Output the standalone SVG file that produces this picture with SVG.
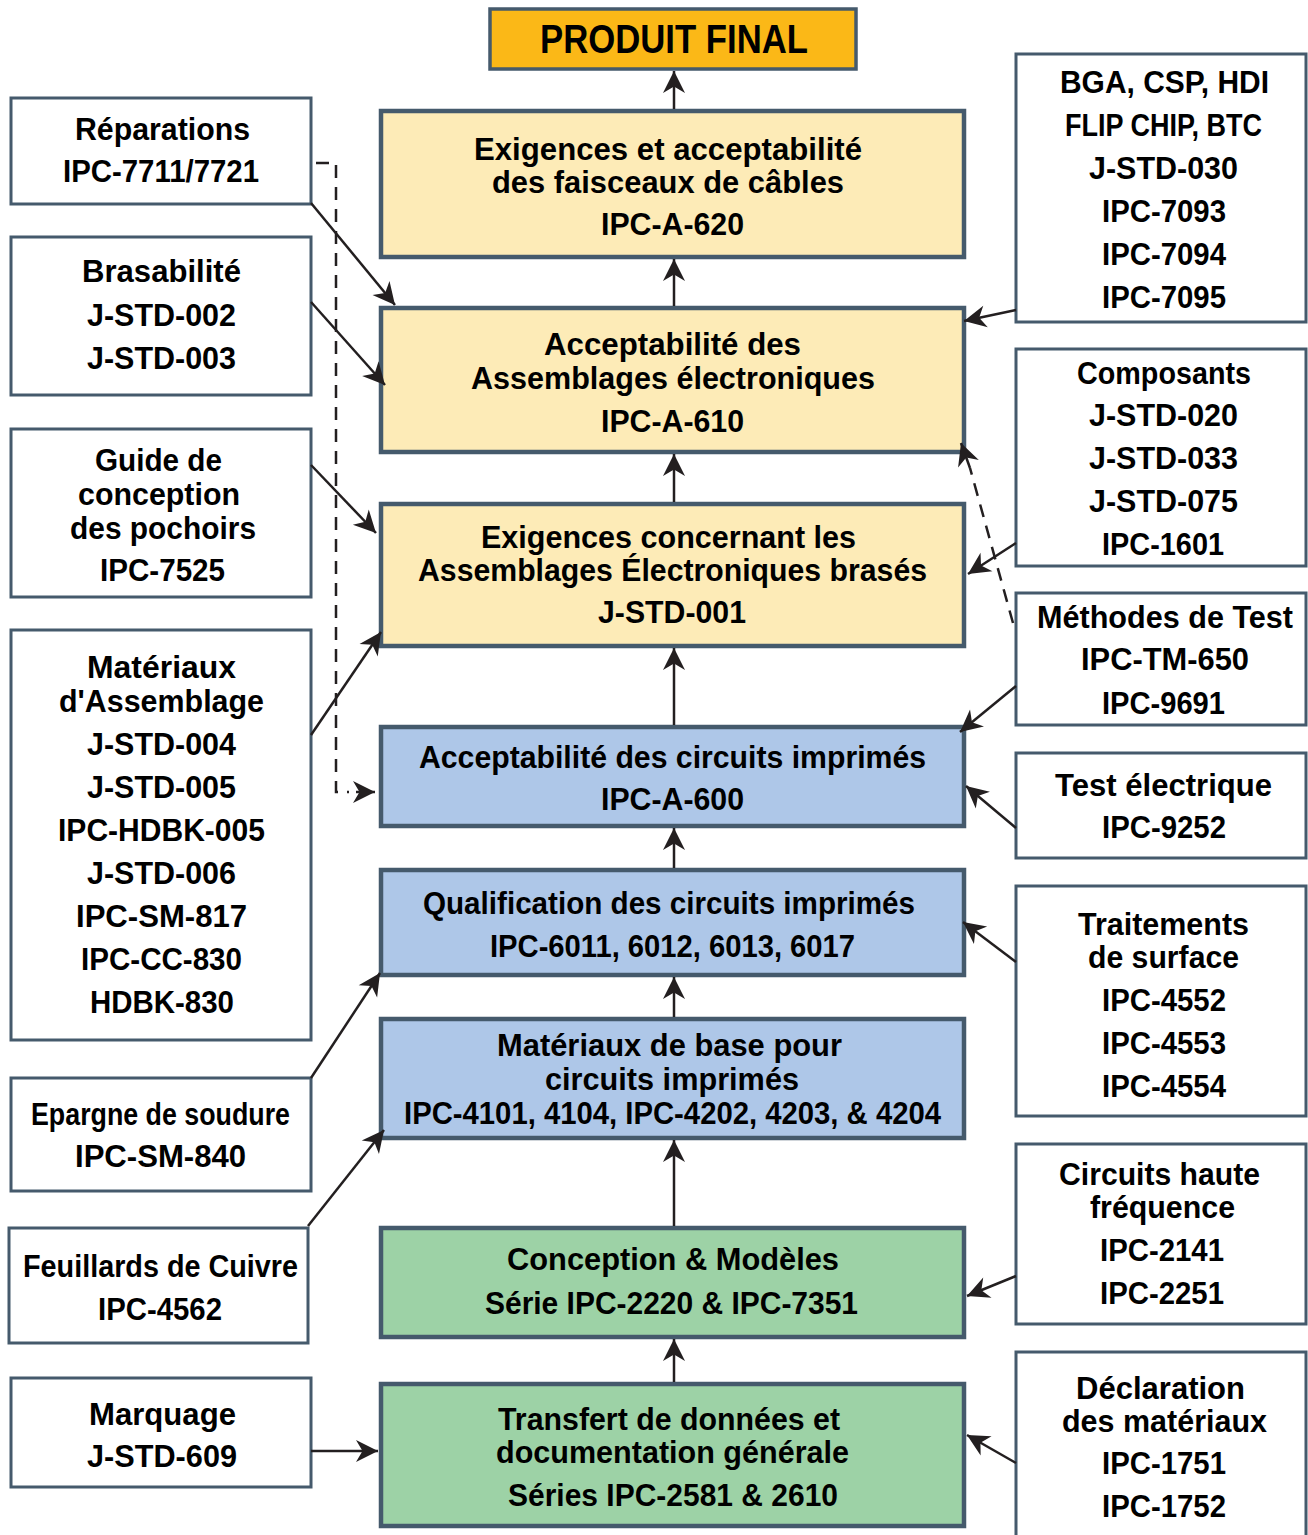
<svg xmlns="http://www.w3.org/2000/svg" width="1308" height="1535" viewBox="0 0 1308 1535">
<defs>
<marker id="ah" markerUnits="userSpaceOnUse" markerWidth="24" markerHeight="24" refX="22" refY="11" orient="auto" overflow="visible">
<path d="M0,0 L22,11 L0,22 L6.5,11 Z" fill="#231F20"/>
</marker>
</defs>
<style>
text{font-family:"Liberation Sans",Arial,sans-serif;font-weight:bold;font-size:32px;fill:#000;text-anchor:middle}
.side{fill:#fff;stroke:#455A6C;stroke-width:3}
.main{stroke:#455A6C;stroke-width:4.5}
.y{fill:#FDEBB7}.b{fill:#AEC7E8}.g{fill:#9DD2A6}
.cn{stroke:#231F20;stroke-width:2.5;fill:none;marker-end:url(#ah)}
.ds{stroke:#231F20;stroke-width:2.5;fill:none;stroke-dasharray:13,9}
</style>
<rect width="1308" height="1535" fill="#fff"/>

<g id="produit-final">
<rect x="490" y="9" width="366" height="60" fill="#FBB817" stroke="#455A6C" stroke-width="3.5"/>
<text x="674" y="53" style="font-size:41px" textLength="268" lengthAdjust="spacingAndGlyphs">PRODUIT FINAL</text>
</g>

<g id="ipc-a-620">
<rect class="main y" x="381" y="111" width="583" height="146"/>
<text x="668" y="160" textLength="388" lengthAdjust="spacingAndGlyphs">Exigences et acceptabilité</text>
<text x="668" y="193" textLength="352" lengthAdjust="spacingAndGlyphs">des faisceaux de câbles</text>
<text x="672.5" y="235" textLength="143" lengthAdjust="spacingAndGlyphs">IPC-A-620</text>
</g>
<g id="ipc-a-610">
<rect class="main y" x="381" y="308" width="583" height="144"/>
<text x="672.5" y="355" textLength="257" lengthAdjust="spacingAndGlyphs">Acceptabilité des</text>
<text x="673" y="389" textLength="404" lengthAdjust="spacingAndGlyphs">Assemblages électroniques</text>
<text x="672.5" y="432" textLength="143" lengthAdjust="spacingAndGlyphs">IPC-A-610</text>
</g>
<g id="j-std-001">
<rect class="main y" x="381" y="504" width="583" height="142"/>
<text x="668.5" y="548" textLength="375" lengthAdjust="spacingAndGlyphs">Exigences concernant les</text>
<text x="672.5" y="581" textLength="509" lengthAdjust="spacingAndGlyphs">Assemblages Électroniques brasés</text>
<text x="672" y="623" textLength="148" lengthAdjust="spacingAndGlyphs">J-STD-001</text>
</g>
<g id="ipc-a-600">
<rect class="main b" x="381" y="727" width="583" height="99"/>
<text x="672.5" y="768" textLength="507" lengthAdjust="spacingAndGlyphs">Acceptabilité des circuits imprimés</text>
<text x="672.5" y="810" textLength="143" lengthAdjust="spacingAndGlyphs">IPC-A-600</text>
</g>
<g id="ipc-6011">
<rect class="main b" x="381" y="870" width="583" height="105"/>
<text x="669" y="914" textLength="492" lengthAdjust="spacingAndGlyphs">Qualification des circuits imprimés</text>
<text x="672.5" y="957" textLength="365" lengthAdjust="spacingAndGlyphs">IPC-6011, 6012, 6013, 6017</text>
</g>
<g id="ipc-4101">
<rect class="main b" x="381" y="1019" width="583" height="119"/>
<text x="669.5" y="1056" textLength="345" lengthAdjust="spacingAndGlyphs">Matériaux de base pour</text>
<text x="672" y="1090" textLength="254" lengthAdjust="spacingAndGlyphs">circuits imprimés</text>
<text x="672.5" y="1124" textLength="537" lengthAdjust="spacingAndGlyphs">IPC-4101, 4104, IPC-4202, 4203, &amp; 4204</text>
</g>
<g id="ipc-2220">
<rect class="main g" x="381" y="1228" width="583" height="109"/>
<text x="673" y="1270" textLength="332" lengthAdjust="spacingAndGlyphs">Conception &amp; Modèles</text>
<text x="671.5" y="1314" textLength="373" lengthAdjust="spacingAndGlyphs">Série IPC-2220 &amp; IPC-7351</text>
</g>
<g id="ipc-2581">
<rect class="main g" x="381" y="1384" width="583" height="142"/>
<text x="669" y="1430" textLength="342" lengthAdjust="spacingAndGlyphs">Transfert de données et</text>
<text x="672.5" y="1463" textLength="353" lengthAdjust="spacingAndGlyphs">documentation générale</text>
<text x="673" y="1506" textLength="330" lengthAdjust="spacingAndGlyphs">Séries IPC-2581 &amp; 2610</text>
</g>

<g id="reparations">
<rect class="side" x="11" y="98" width="300" height="106"/>
<text x="162.5" y="140" textLength="175" lengthAdjust="spacingAndGlyphs">Réparations</text>
<text x="161" y="182" textLength="196" lengthAdjust="spacingAndGlyphs">IPC-7711/7721</text>
</g>
<g id="brasabilite">
<rect class="side" x="11" y="237" width="300" height="158"/>
<text x="161.5" y="282" textLength="159" lengthAdjust="spacingAndGlyphs">Brasabilité</text>
<text x="161.5" y="326" textLength="149" lengthAdjust="spacingAndGlyphs">J-STD-002</text>
<text x="161.5" y="369" textLength="149" lengthAdjust="spacingAndGlyphs">J-STD-003</text>
</g>
<g id="guide-pochoirs">
<rect class="side" x="11" y="429" width="300" height="168"/>
<text x="158.5" y="471" textLength="127" lengthAdjust="spacingAndGlyphs">Guide de</text>
<text x="159" y="505" textLength="162" lengthAdjust="spacingAndGlyphs">conception</text>
<text x="163" y="539" textLength="186" lengthAdjust="spacingAndGlyphs">des pochoirs</text>
<text x="162.5" y="581" textLength="125" lengthAdjust="spacingAndGlyphs">IPC-7525</text>
</g>
<g id="materiaux-assemblage">
<rect class="side" x="11" y="630" width="300" height="410"/>
<text x="161.5" y="678" textLength="149" lengthAdjust="spacingAndGlyphs">Matériaux</text>
<text x="161.5" y="712" textLength="205" lengthAdjust="spacingAndGlyphs">d'Assemblage</text>
<text x="161.5" y="755" textLength="149" lengthAdjust="spacingAndGlyphs">J-STD-004</text>
<text x="161.5" y="798" textLength="149" lengthAdjust="spacingAndGlyphs">J-STD-005</text>
<text x="161.5" y="841" textLength="207" lengthAdjust="spacingAndGlyphs">IPC-HDBK-005</text>
<text x="161.5" y="884" textLength="149" lengthAdjust="spacingAndGlyphs">J-STD-006</text>
<text x="161.5" y="927" textLength="171" lengthAdjust="spacingAndGlyphs">IPC-SM-817</text>
<text x="161.5" y="970" textLength="161" lengthAdjust="spacingAndGlyphs">IPC-CC-830</text>
<text x="162" y="1013" textLength="144" lengthAdjust="spacingAndGlyphs">HDBK-830</text>
</g>
<g id="epargne">
<rect class="side" x="11" y="1078" width="300" height="113"/>
<text x="160.5" y="1125" textLength="259" lengthAdjust="spacingAndGlyphs">Epargne de soudure</text>
<text x="160.5" y="1167" textLength="171" lengthAdjust="spacingAndGlyphs">IPC-SM-840</text>
</g>
<g id="feuillards">
<rect class="side" x="9" y="1228" width="299" height="115"/>
<text x="160.5" y="1277" textLength="275" lengthAdjust="spacingAndGlyphs">Feuillards de Cuivre</text>
<text x="160" y="1320" textLength="124" lengthAdjust="spacingAndGlyphs">IPC-4562</text>
</g>
<g id="marquage">
<rect class="side" x="11" y="1378" width="300" height="109"/>
<text x="162.5" y="1425" textLength="147" lengthAdjust="spacingAndGlyphs">Marquage</text>
<text x="162" y="1467" textLength="150" lengthAdjust="spacingAndGlyphs">J-STD-609</text>
</g>

<g id="bga">
<rect class="side" x="1016" y="54" width="290" height="268"/>
<text x="1164.5" y="93" textLength="209" lengthAdjust="spacingAndGlyphs">BGA, CSP, HDI</text>
<text x="1163.5" y="136" textLength="197" lengthAdjust="spacingAndGlyphs">FLIP CHIP, BTC</text>
<text x="1163.5" y="179" textLength="149" lengthAdjust="spacingAndGlyphs">J-STD-030</text>
<text x="1164" y="222" textLength="124" lengthAdjust="spacingAndGlyphs">IPC-7093</text>
<text x="1164" y="265" textLength="124" lengthAdjust="spacingAndGlyphs">IPC-7094</text>
<text x="1164" y="308" textLength="124" lengthAdjust="spacingAndGlyphs">IPC-7095</text>
</g>
<g id="composants">
<rect class="side" x="1016" y="349" width="290" height="217"/>
<text x="1164" y="384" textLength="174" lengthAdjust="spacingAndGlyphs">Composants</text>
<text x="1163.5" y="426" textLength="149" lengthAdjust="spacingAndGlyphs">J-STD-020</text>
<text x="1163.5" y="469" textLength="149" lengthAdjust="spacingAndGlyphs">J-STD-033</text>
<text x="1163.5" y="512" textLength="149" lengthAdjust="spacingAndGlyphs">J-STD-075</text>
<text x="1163" y="555" textLength="122" lengthAdjust="spacingAndGlyphs">IPC-1601</text>
</g>
<g id="methodes-test">
<rect class="side" x="1016" y="593" width="290" height="132"/>
<text x="1165" y="628" textLength="256" lengthAdjust="spacingAndGlyphs">Méthodes de Test</text>
<text x="1165" y="670" textLength="168" lengthAdjust="spacingAndGlyphs">IPC-TM-650</text>
<text x="1163.5" y="714" textLength="123" lengthAdjust="spacingAndGlyphs">IPC-9691</text>
</g>
<g id="test-electrique">
<rect class="side" x="1016" y="753" width="290" height="105"/>
<text x="1163.5" y="796" textLength="217" lengthAdjust="spacingAndGlyphs">Test électrique</text>
<text x="1164" y="838" textLength="124" lengthAdjust="spacingAndGlyphs">IPC-9252</text>
</g>
<g id="traitements">
<rect class="side" x="1016" y="886" width="290" height="230"/>
<text x="1163.5" y="935" textLength="171" lengthAdjust="spacingAndGlyphs">Traitements</text>
<text x="1163.5" y="968" textLength="151" lengthAdjust="spacingAndGlyphs">de surface</text>
<text x="1164" y="1011" textLength="124" lengthAdjust="spacingAndGlyphs">IPC-4552</text>
<text x="1164" y="1054" textLength="124" lengthAdjust="spacingAndGlyphs">IPC-4553</text>
<text x="1164" y="1097" textLength="124" lengthAdjust="spacingAndGlyphs">IPC-4554</text>
</g>
<g id="haute-frequence">
<rect class="side" x="1016" y="1144" width="290" height="180"/>
<text x="1159.5" y="1185" textLength="201" lengthAdjust="spacingAndGlyphs">Circuits haute</text>
<text x="1162.5" y="1218" textLength="145" lengthAdjust="spacingAndGlyphs">fréquence</text>
<text x="1162" y="1261" textLength="124" lengthAdjust="spacingAndGlyphs">IPC-2141</text>
<text x="1162" y="1304" textLength="124" lengthAdjust="spacingAndGlyphs">IPC-2251</text>
</g>
<g id="declaration">
<rect class="side" x="1016" y="1352" width="290" height="190"/>
<text x="1160.5" y="1399" textLength="169" lengthAdjust="spacingAndGlyphs">Déclaration</text>
<text x="1164.5" y="1432" textLength="205" lengthAdjust="spacingAndGlyphs">des matériaux</text>
<text x="1164" y="1474" textLength="124" lengthAdjust="spacingAndGlyphs">IPC-1751</text>
<text x="1164" y="1517" textLength="124" lengthAdjust="spacingAndGlyphs">IPC-1752</text>
</g>

<g id="connectors">
<line class="cn" x1="674" y1="109" x2="674" y2="71"/>
<line class="cn" x1="674" y1="306" x2="674" y2="259"/>
<line class="cn" x1="674" y1="502" x2="674" y2="454"/>
<line class="cn" x1="674" y1="725" x2="674" y2="648"/>
<line class="cn" x1="674" y1="868" x2="674" y2="828"/>
<line class="cn" x1="674" y1="1017" x2="674" y2="977"/>
<line class="cn" x1="674" y1="1226" x2="674" y2="1140"/>
<line class="cn" x1="674" y1="1382" x2="674" y2="1339"/>

<line class="cn" x1="311" y1="203" x2="395" y2="305"/>
<line class="cn" x1="311" y1="302" x2="385" y2="385"/>
<line class="cn" x1="311" y1="465" x2="376" y2="533"/>
<line class="cn" x1="311" y1="735" x2="381" y2="632"/>
<line class="cn" x1="311" y1="1078" x2="380" y2="973"/>
<line class="cn" x1="308" y1="1226" x2="384" y2="1130"/>
<line class="cn" x1="311" y1="1451" x2="378" y2="1451"/>

<path class="ds" d="M316,163 H336 V792 H349"/>
<line class="cn" x1="356" y1="792" x2="375" y2="792"/>

<line class="cn" x1="1016" y1="310" x2="964" y2="321"/>
<line class="cn" x1="1016" y1="543" x2="968" y2="574"/>
<line class="cn" x1="1016" y1="686" x2="960" y2="732"/>
<line class="cn" x1="1016" y1="828" x2="966" y2="786"/>
<line class="cn" x1="1016" y1="962" x2="963" y2="922"/>
<line class="cn" x1="1016" y1="1276" x2="967" y2="1296"/>
<line class="cn" x1="1016" y1="1463" x2="967" y2="1435"/>

<path class="ds" d="M1013,623 L970,468"/>
<line class="cn" x1="970" y1="468" x2="961" y2="443"/>
</g>
</svg>
